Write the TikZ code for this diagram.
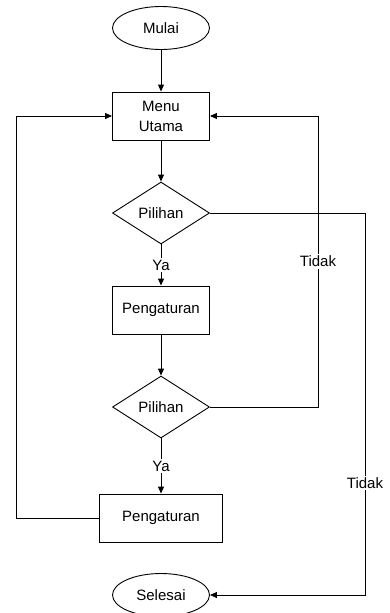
\documentclass[tikz,border=0pt]{standalone}
\usepackage{fontspec}
\setmainfont{Liberation Sans}
\usetikzlibrary{shapes.geometric,arrows.meta}

\begin{document}
\begin{tikzpicture}[x=1pt, y=-1pt, line width=0.9pt, >={Triangle[length=7pt,width=6pt]},
  font=\fontsize{15}{20}\selectfont,
  terminal/.style={draw, ellipse, minimum width=97pt, minimum height=43pt, inner sep=0pt},
  proses/.style={draw, rectangle, minimum width=97pt, minimum height=48pt, inner sep=0pt, align=center},
  keputusan/.style={draw, diamond, aspect=1.56, minimum width=97pt, minimum height=62pt, inner sep=0pt},
  label/.style={fill=white, inner sep=1.5pt}]
  \useasboundingbox (0,0) rectangle (389,613); % ukuran gambar

  % simbol-simbol alur
  \node[terminal] (mulai) at (161,28) {Mulai};
  \node[proses] (menu) at (161,116) {Menu\\Utama};
  \node[keputusan] (pilih1) at (161,213) {Pilihan};
  \node[proses] (atur1) at (161,310) {Pengaturan};
  \node[keputusan] (pilih2) at (161,407) {Pilihan};
  \node[proses, minimum width=123pt] (atur2) at (161,518) {Pengaturan};
  \node[terminal] (selesai) at (161,595) {Selesai};

  % garis alur lurus ke bawah
  \draw[->] (mulai) -- (menu);
  \draw[->] (menu) -- (pilih1);
  \draw[->] (pilih1) -- node[label] {Ya} (atur1);
  \draw[->] (atur1) -- (pilih2);
  \draw[->] (pilih2) -- node[label] {Ya} (atur2);

  % garis kembali ke menu utama
  \draw[->] (atur2.west) -- ++(-83,0) |- (menu.west); % kiri
  \draw[->] (pilih2.east) -- ++(108,0) |- node[label, pos=0.25] {Tidak} (menu.east); % kanan
  \draw[->] (pilih1.east) -- ++(155,0) |- node[label, pos=0.354] {Tidak} (selesai.east); % keluar
\end{tikzpicture}
\end{document}
